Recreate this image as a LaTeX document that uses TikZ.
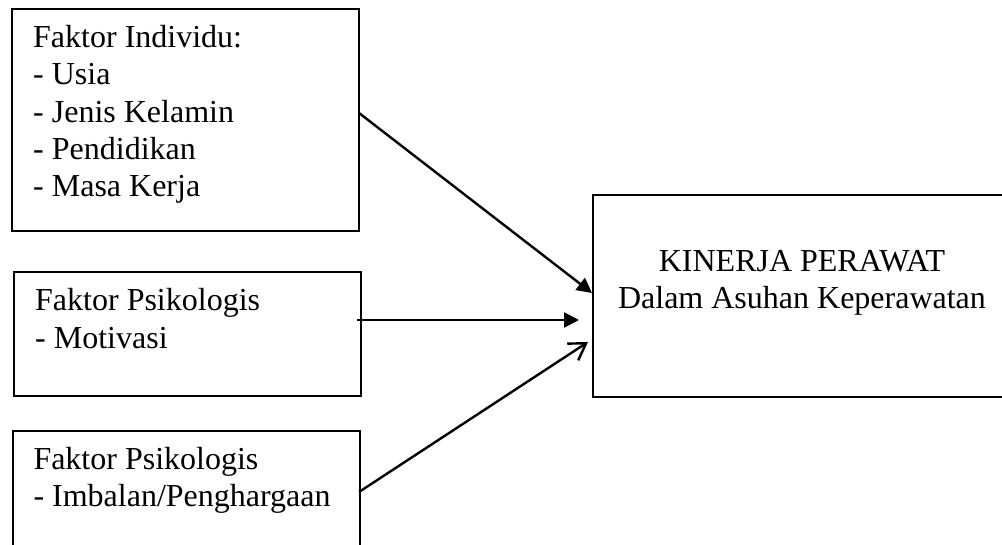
\documentclass[tikz,border=0pt]{standalone}
\usepackage{fontspec}
\setmainfont{Liberation Serif}
\usetikzlibrary{arrows.meta}
\tikzset{
  box/.style={draw=black, line width=2.4pt, inner sep=0pt, outer sep=0pt, anchor=north west},
  txt/.style={anchor=base west, inner sep=0pt, align=left, font=\fontsize{32}{37.3}\selectfont},
  ctxt/.style={anchor=base, inner sep=0pt, align=center, font=\fontsize{32}{36.6}\selectfont},
  arr/.style={line width=2.4pt, -{Triangle[length=15pt,width=15pt]}},
  arropen/.style={line width=2.4pt, -{Straight Barb[length=16pt,width=20pt,line width=2.4pt]}}
}
\begin{document}
\begin{tikzpicture}[x=1pt,y=-1pt]
\clip (0,0) rectangle (1002,545);
\fill[white] (0,0) rectangle (1002,545);
% boxes
\node[box, minimum width=347pt, minimum height=222pt] (b1) at (12,9) {};
\node[box, minimum width=347pt, minimum height=124pt] (b2) at (14,272) {};
\node[box, minimum width=347pt, minimum height=140pt] (b3) at (13,431) {};
\node[box, minimum width=420pt, minimum height=202pt] (b4) at (593,195) {};
% texts (anchor at baseline of last line)
\node[txt] (t1) at (33,196.9) {Faktor Individu:\\- Usia\\- Jenis Kelamin\\- Pendidikan\\- Masa Kerja};
\node[txt] (t2) at (35,348.3) {Faktor Psikologis\\- Motivasi};
\node[txt] (t3) at (33.3,506.7) {Faktor Psikologis\\- Imbalan/Penghargaan};
\node[ctxt] (t4) at (802,308.3) {KINERJA PERAWAT\\Dalam Asuhan Keperawatan};
% connector ends
\coordinate (s1) at (359,113);
\coordinate (e1) at (592,293);
\coordinate (s2) at (357,320);
\coordinate (e2) at (579,320);
\coordinate (s3) at (359,492);
\coordinate (e3) at (588,342);
\draw[arr] (s1) -- (e1);
\draw[arr] (s2) -- (e2);
\draw[arropen] (s3) -- (e3);
\end{tikzpicture}
\end{document}
